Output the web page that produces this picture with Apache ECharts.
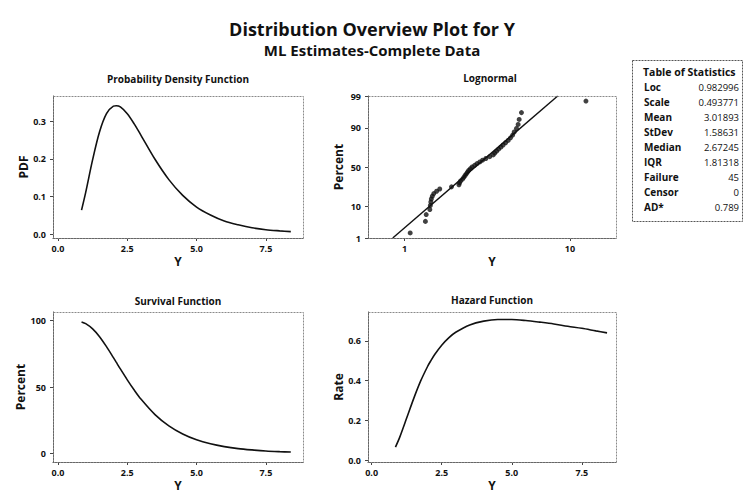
<!DOCTYPE html>
<html>
<head>
<meta charset="utf-8">
<script src="https://cdn.jsdelivr.net/npm/echarts@6/dist/echarts.min.js"></script>
<style>
html,body{margin:0;padding:0;background:#fff;}
#chart{width:744px;height:501px;}
</style>
</head>
<body>
<div id="chart"></div>
<script>
// ---- Data ----
const curveX = [0.85,1.0,1.25,1.5,1.75,2.0,2.1,2.25,2.5,2.75,3.0,3.5,4.0,4.5,5.0,5.5,6.0,6.5,7.0,7.5,8.0,8.4];
const pdfY   = [0.064,0.111,0.198,0.272,0.320,0.340,0.341,0.338,0.320,0.293,0.262,0.199,0.145,0.103,0.072,0.051,0.035,0.025,0.017,0.012,0.009,0.007];
const survY  = [99.0,97.7,93.8,87.9,80.4,72.1,68.7,63.6,55.4,47.7,40.7,29.2,20.7,14.6,10.2,7.2,5.1,3.6,2.6,1.8,1.3,1.0];
const hazY   = [0.065,0.114,0.211,0.309,0.398,0.472,0.497,0.531,0.578,0.615,0.643,0.680,0.699,0.707,0.707,0.702,0.694,0.685,0.673,0.663,0.650,0.640];

const probX = [1.08,1.335,1.35,1.42,1.43,1.44,1.45,1.47,1.50,1.56,1.63,1.92,2.13,2.15,2.18,2.24,2.28,2.32,2.36,2.40,2.44,2.50,2.56,2.65,2.74,2.85,2.96,3.10,3.27,3.43,3.51,3.60,3.70,3.82,3.94,4.08,4.23,4.37,4.50,4.60,4.75,4.86,4.93,5.09,12.5];
const probPct = [1.54,3.74,5.95,8.15,10.35,12.56,14.76,16.96,19.16,21.37,23.57,25.77,27.97,30.18,32.38,34.58,36.78,38.99,41.19,43.39,45.59,47.80,50.00,52.20,54.41,56.61,58.81,61.01,63.22,65.42,67.62,69.82,72.03,74.23,76.43,78.63,80.84,83.04,85.24,87.44,89.65,91.85,94.05,96.26,98.46];
const fitX = [0.847, 8.43];
const fitPct = [1, 99];

const pctTicks = [1, 10, 50, 90, 99];
const linTicks = [0, 2.5, 5, 7.5];
const logTicks = [1, 10];
const pdfTicks = [0, 0.1, 0.2, 0.3];
const survTicks = [0, 50, 100];
const hazTicks = [0, 0.2, 0.4, 0.6];

const statLabels = ['Loc','Scale','Mean','StDev','Median','IQR','Failure','Censor','AD*'];
const statValues = ['0.982996','0.493771','3.01893','1.58631','2.67245','1.81318','45','0','0.789'];

// ---- Normal probability scale transform ----
function probit(pct){
  const p = pct/100;
  const a=[-3.969683028665376e+01,2.209460984245205e+02,-2.759285104469687e+02,1.383577518672690e+02,-3.066479806614716e+01,2.506628277459239e+00];
  const b=[-5.447609879822406e+01,1.615858368580409e+02,-1.556989798598866e+02,6.680131188771972e+01,-1.328068155288572e+01];
  const c=[-7.784894002430293e-03,-3.223964580411365e-01,-2.400758277161838e+00,-2.549732969343801e+00,4.374664141464968e+00,2.938163982698783e+00];
  const d=[7.784695709041462e-03,3.224671290700398e-01,2.445134137142996e+00,3.754408661907416e+00];
  const pl=0.02425;
  let q,r;
  if(p<pl){ q=Math.sqrt(-2*Math.log(p)); return (((((c[0]*q+c[1])*q+c[2])*q+c[3])*q+c[4])*q+c[5])/((((d[0]*q+d[1])*q+d[2])*q+d[3])*q+1); }
  if(p<=1-pl){ q=p-0.5; r=q*q; return (((((a[0]*r+a[1])*r+a[2])*r+a[3])*r+a[4])*r+a[5])*q/(((((b[0]*r+b[1])*r+b[2])*r+b[3])*r+b[4])*r+1); }
  q=Math.sqrt(-2*Math.log(1-p)); return -(((((c[0]*q+c[1])*q+c[2])*q+c[3])*q+c[4])*q+c[5])/((((d[0]*q+d[1])*q+d[2])*q+d[3])*q+1);
}
const pctTickZ = pctTicks.map(probit);
function zLabel(v){
  let best=0, bd=1e9;
  pctTickZ.forEach((z,i)=>{ const dd=Math.abs(z-v); if(dd<bd){bd=dd;best=i;} });
  return String(pctTicks[best]);
}

// ---- Chart ----
const FONT = '"Open Sans", "Noto Sans", sans-serif';
const chart = echarts.init(document.getElementById('chart'), null, {renderer:'svg'});

const labelStyle = {fontFamily:FONT, fontSize:9, fontWeight:'bold', color:'#111', margin:6};
const nameStyle = {fontFamily:FONT, fontSize:12, fontWeight:'bold', color:'#111'};
const axisLine = {show:true, onZero:false, lineStyle:{color:'#444', width:1}};
const tick = {show:true, length:3, lineStyle:{color:'#444'}};

function xAx(idx, min, max){
  return {gridIndex:idx, type:'value', min:min, max:max, name:'Y', nameLocation:'middle', nameGap:17,
    nameTextStyle:nameStyle, axisLine:axisLine, splitLine:{show:false},
    axisTick:Object.assign({customValues:linTicks}, tick),
    axisLabel:Object.assign({customValues:linTicks, formatter:v=>v.toFixed(1)}, labelStyle)};
}
function yAx(idx, min, max, ticks, name, gap, fmt){
  return {gridIndex:idx, type:'value', min:min, max:max, name:name, nameLocation:'middle', nameGap:gap,
    nameTextStyle:nameStyle, axisLine:axisLine, splitLine:{show:false},
    axisTick:Object.assign({customValues:ticks}, tick),
    axisLabel:Object.assign({customValues:ticks, formatter:fmt}, labelStyle, {margin:7})};
}
const grids = [
  {left:53, top:96, width:250, height:142},
  {left:368, top:96, width:248, height:142},
  {left:53, top:312, width:250, height:150},
  {left:368, top:312, width:248, height:150}
];
const lineStyle = {color:'#111', width:1.6};

const frames = grids.map(g=>({type:'rect', z:100, silent:true,
  shape:{x:g.left+0.5, y:g.top+0.5, width:g.width, height:g.height},
  style:{fill:'none', stroke:'#8a8a8a', lineWidth:1, lineDash:[2,1]}}));

const option = {
  animation:false,
  backgroundColor:'#fff',
  title:{
    text:'Distribution Overview Plot for Y',
    subtext:'ML Estimates-Complete Data',
    left:'center', top:15, itemGap:4,
    textStyle:{fontFamily:FONT, fontSize:18, fontWeight:'bold', color:'#111'},
    subtextStyle:{fontFamily:FONT, fontSize:15, fontWeight:'bold', color:'#111'}
  },
  grid:grids,
  xAxis:[
    xAx(0, -0.18, 8.84),
    {gridIndex:1, type:'log', logBase:10, min:0.6, max:19, name:'Y', nameLocation:'middle', nameGap:17,
      nameTextStyle:nameStyle, axisLine:axisLine, splitLine:{show:false}, minorTick:{show:false},
      axisTick:Object.assign({customValues:logTicks}, tick),
      axisLabel:Object.assign({customValues:logTicks, formatter:v=>String(Math.round(v))}, labelStyle)},
    xAx(2, -0.18, 8.84),
    xAx(3, -0.13, 8.72)
  ],
  yAxis:[
    yAx(0, -0.01, 0.367, pdfTicks, 'PDF', 19, v=>v.toFixed(1)),
    yAx(1, probit(1), probit(99), pctTickZ, 'Percent', 24, zLabel),
    yAx(2, -6.5, 106.5, survTicks, 'Percent', 19, v=>String(Math.round(v))),
    yAx(3, -0.01, 0.745, hazTicks, 'Rate', 24, v=>v.toFixed(1))
  ],
  series:[
    {type:'line', xAxisIndex:0, yAxisIndex:0, smooth:0.3, showSymbol:false, lineStyle:lineStyle,
      data:curveX.map((x,i)=>[x,pdfY[i]])},
    {type:'line', xAxisIndex:1, yAxisIndex:1, showSymbol:false, lineStyle:{color:'#111', width:1.4},
      data:fitX.map((x,i)=>[x,probit(fitPct[i])])},
    {type:'scatter', xAxisIndex:1, yAxisIndex:1, symbolSize:5, itemStyle:{color:'#111'},
      data:probX.map((x,i)=>[x,probit(probPct[i])])},
    {type:'line', xAxisIndex:2, yAxisIndex:2, smooth:0.3, showSymbol:false, lineStyle:lineStyle,
      data:curveX.map((x,i)=>[x,survY[i]])},
    {type:'line', xAxisIndex:3, yAxisIndex:3, smooth:0.3, showSymbol:false, lineStyle:lineStyle,
      data:curveX.map((x,i)=>[x,hazY[i]])}
  ],
  graphic:frames.concat([
    {type:'text', style:{text:'Probability Density Function', x:178, y:79, textAlign:'center', textVerticalAlign:'middle', font:'bold 10px '+FONT, fill:'#111'}},
    {type:'text', style:{text:'Lognormal', x:490, y:78, textAlign:'center', textVerticalAlign:'middle', font:'bold 10px '+FONT, fill:'#111'}},
    {type:'text', style:{text:'Survival Function', x:178, y:301, textAlign:'center', textVerticalAlign:'middle', font:'bold 10px '+FONT, fill:'#111'}},
    {type:'text', style:{text:'Hazard Function', x:492, y:300, textAlign:'center', textVerticalAlign:'middle', font:'bold 10px '+FONT, fill:'#111'}},
    {type:'rect', shape:{x:632.5, y:60.5, width:110, height:161}, style:{fill:'#fff', stroke:'#555', lineWidth:1, lineDash:[2,1]}},
    {type:'text', style:{text:'Table of Statistics', x:643, y:72, textAlign:'left', textVerticalAlign:'middle', font:'bold 10.5px '+FONT, fill:'#111'}}
  ]).concat(statLabels.map((t,i)=>({type:'text', style:{text:t, x:644, y:87+15*i, textAlign:'left', textVerticalAlign:'middle', font:'bold 10px '+FONT, fill:'#111'}})))
   .concat(statValues.map((t,i)=>({type:'text', style:{text:t, x:739, y:87+15*i, textAlign:'right', textVerticalAlign:'middle', font:'9.5px '+FONT, fill:'#111'}})))
};
chart.setOption(option);
</script>
</body>
</html>
